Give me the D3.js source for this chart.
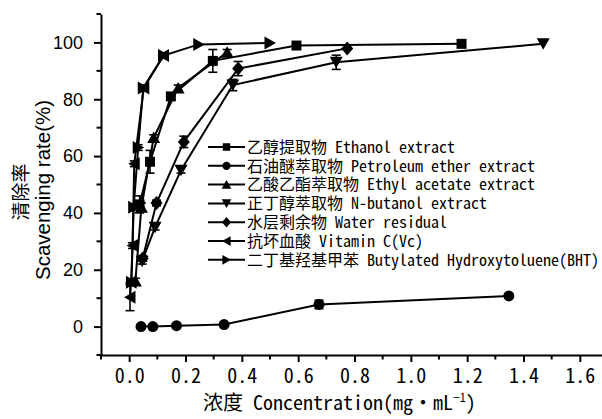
<!DOCTYPE html>
<html><head><meta charset="utf-8">
<script src="https://cdn.jsdelivr.net/npm/d3@7"></script>
<style>body{margin:0;background:#fff}svg{display:block}</style>
</head><body>
<svg id="c" width="602" height="419"></svg>
<script>
// ---- data ----
const ethanolX = [0.037, 0.074, 0.148, 0.297, 0.594, 1.18];
const ethanolY = [43, 58, 81, 93.5, 98.9, 99.5];
const ethanolE = [3, 4, 1, 4, 0.5, 0.5];

const petroleumX = [0.042, 0.084, 0.168, 0.337, 0.674, 1.348];
const petroleumY = [0, 0, 0.3, 0.7, 7.8, 10.8];
const petroleumE = [0, 0, 0, 0.3, 1.5, 0.5];

const ethylX = [0.022, 0.0435, 0.087, 0.174, 0.348];
const ethylY = [16, 42, 66.5, 84, 96.5];
const ethylE = [1, 1.5, 1, 1, 1];

const butanolX = [0.046, 0.092, 0.184, 0.368, 0.735, 1.47];
const butanolY = [23, 35, 55, 85, 93, 99.5];
const butanolE = [1, 1, 1, 2, 2.5, 0.5];

const waterX = [0.048, 0.097, 0.194, 0.387, 0.774];
const waterY = [24, 43.5, 65, 90.8, 97.9];
const waterE = [1, 1, 2, 2.5, 0.5];

const vcX = [0.003, 0.007, 0.012, 0.018, 0.052, 0.122];
const vcY = [10.3, 15.6, 28.5, 57.3, 84, 95.4];
const vcE = [4.7, 1, 1, 1, 1, 0.5];

const bhtX = [0.008, 0.016, 0.032, 0.05, 0.122, 0.247, 0.5];
const bhtY = [15.6, 42, 63, 84, 95.4, 99.3, 99.8];
const bhtE = [1, 1, 1, 1, 0.5, 0.5, 0.5];

const seriesNames = [
  "乙醇提取物 Ethanol extract",
  "石油醚萃取物 Petroleum ether extract",
  "乙酸乙酯萃取物 Ethyl acetate extract",
  "正丁醇萃取物 N-butanol extract",
  "水层剩余物 Water residual",
  "抗坏血酸 Vitamin C(Vc)",
  "二丁基羟基甲苯 Butylated Hydroxytoluene(BHT)"
];
const seriesSymbols = ["square", "circle", "up", "down", "diamond", "left", "right"];
const xTicks = [0, 0.2, 0.4, 0.6, 0.8, 1.0, 1.2, 1.4, 1.6];
const yTicks = [0, 20, 40, 60, 80, 100];

const series = [
  {x: ethanolX, y: ethanolY, e: ethanolE},
  {x: petroleumX, y: petroleumY, e: petroleumE},
  {x: ethylX, y: ethylY, e: ethylE},
  {x: butanolX, y: butanolY, e: butanolE},
  {x: waterX, y: waterY, e: waterE},
  {x: vcX, y: vcY, e: vcE},
  {x: bhtX, y: bhtY, e: bhtE}
].map((s, i) => ({name: seriesNames[i], sym: seriesSymbols[i],
  pts: s.x.map((v, j) => ({x: v, y: s.y[j], e: s.e[j]}))}));

// ---- chart ----
const svg = d3.select("#c");
const x = d3.scaleLinear().domain([-0.1, 1.7]).range([101, 608]);
const y = d3.scaleLinear().domain([-10, 110]).range([355, 14]);

const mono = "'Noto Sans Mono CJK SC','Noto Sans CJK SC','DejaVu Sans Mono',monospace";
const sans = "'Liberation Sans',Arial,sans-serif";

function sym(type, k) {
  k = k || 1;
  const P = {
    square: [[-5,-5],[5,-5],[5,5],[-5,5]],
    up: [[0,-6],[6.5,5.5],[-6.5,5.5]],
    down: [[0,6],[6.5,-5.5],[-6.5,-5.5]],
    diamond: [[0,-7],[6,0],[0,7],[-6,0]],
    left: [[-6,0],[5.5,-6.5],[5.5,6.5]],
    right: [[6,0],[-5.5,-6.5],[-5.5,6.5]]
  };
  if (type === "circle") {
    const r = 5.5 * k;
    return `M${r},0A${r},${r} 0 1,1 ${-r},0A${r},${r} 0 1,1 ${r},0Z`;
  }
  return "M" + P[type].map(p => [p[0]*k, p[1]*k].join(",")).join("L") + "Z";
}

// axes
const xAxis = d3.axisBottom(x).tickValues(xTicks).tickSize(7).tickSizeOuter(0)
  .tickFormat(d3.format(".1f"));
const gx = svg.append("g").attr("transform", "translate(0,355)").call(xAxis);
gx.select(".domain").attr("stroke-width", 2);
gx.selectAll(".tick line").attr("stroke-width", 2);
gx.selectAll(".tick text").attr("font-family", mono).attr("font-size", 20)
  .attr("fill", "#000").attr("dy", "0.95em").attr("y", 9);
const xMinor = d3.range(-0.1, 1.71, 0.2);
svg.append("g").selectAll("line").data(xMinor).join("line")
  .attr("x1", d => x(d)).attr("x2", d => x(d)).attr("y1", 355).attr("y2", 359.5)
  .attr("stroke", "#000").attr("stroke-width", 2);

const yAxis = d3.axisLeft(y).tickValues(yTicks).tickSize(7).tickSizeOuter(0);
const gy = svg.append("g").attr("transform", "translate(101,0)").call(yAxis);
gy.select(".domain").attr("stroke-width", 2);
gy.selectAll(".tick line").attr("stroke-width", 2);
gy.selectAll(".tick text").attr("font-family", sans).attr("font-size", 18)
  .attr("fill", "#000").attr("x", -18);
const yMinor = d3.range(-10, 111, 20);
svg.append("g").selectAll("line").data(yMinor).join("line")
  .attr("x1", 101).attr("x2", 96.5).attr("y1", d => y(d)).attr("y2", d => y(d))
  .attr("stroke", "#000").attr("stroke-width", 2);

// axis titles
const xt = svg.append("text").attr("x", 203).attr("y", 410)
  .attr("font-family", mono).attr("font-size", 20).attr("fill", "#000");
xt.append("tspan").text("浓度 Concentration(mg・mL");
xt.append("tspan").attr("font-size", 12).attr("dy", -8).text("−1");
xt.append("tspan").attr("dy", 8).text(")");

svg.append("text").attr("transform", "translate(28,192) rotate(-90)")
  .attr("text-anchor", "middle").attr("font-family", "'Noto Sans CJK SC',sans-serif")
  .attr("font-size", 19).attr("fill", "#000").text("清除率");
svg.append("text").attr("transform", "translate(50,190) rotate(-90)")
  .attr("text-anchor", "middle").attr("font-family", sans)
  .attr("font-size", 20.5).attr("fill", "#000").text("Scavenging rate(%)");

// lines
const line = d3.line().x(d => x(d.x)).y(d => y(d.y));
svg.append("g").selectAll("path").data(series).join("path")
  .attr("d", d => line(d.pts)).attr("fill", "none")
  .attr("stroke", "#000").attr("stroke-width", 2);

// error bars
const eb = svg.append("g").attr("stroke", "#000").attr("stroke-width", 1.6);
series.forEach(s => s.pts.filter(p => p.e > 0.6).forEach(p => {
  const cx = x(p.x), y1 = y(p.y + p.e), y2 = y(p.y - p.e);
  eb.append("line").attr("x1", cx).attr("x2", cx).attr("y1", y1).attr("y2", y2);
  eb.append("line").attr("x1", cx - 4.5).attr("x2", cx + 4.5).attr("y1", y1).attr("y2", y1);
  eb.append("line").attr("x1", cx - 4.5).attr("x2", cx + 4.5).attr("y1", y2).attr("y2", y2);
}));

// markers
series.forEach(s => {
  svg.append("g").selectAll("path").data(s.pts).join("path")
    .attr("d", sym(s.sym)).attr("fill", "#000")
    .attr("transform", d => `translate(${x(d.x)},${y(d.y)})`);
});

// legend
const lg = svg.append("g");
series.forEach((s, i) => {
  const ly = 147 + i * 18.8;
  lg.append("line").attr("x1", 208).attr("x2", 245).attr("y1", ly).attr("y2", ly)
    .attr("stroke", "#000").attr("stroke-width", 2);
  lg.append("path").attr("d", sym(s.sym, 0.75)).attr("fill", "#000")
    .attr("transform", `translate(226.5,${ly})`);
  lg.append("text").attr("x", 247).attr("y", ly).attr("dy", "0.36em")
    .attr("font-family", mono).attr("font-size", 16).attr("fill", "#000").text(s.name);
});
</script>
</body></html>
